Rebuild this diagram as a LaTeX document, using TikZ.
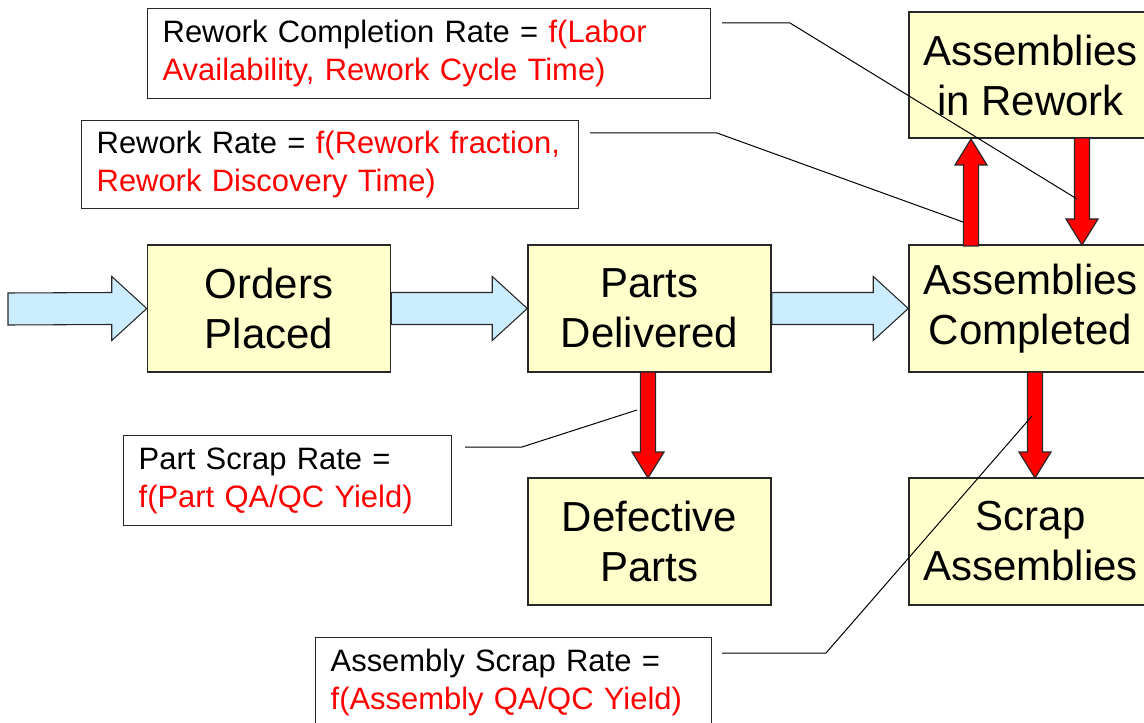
\documentclass[tikz,border=0pt]{standalone}
\usepackage{fontspec}
\setmainfont{Liberation Sans}
\usetikzlibrary{calc}
\def\pxu{0.75pt}
\definecolor{stockfill}{RGB}{255,255,204}
\definecolor{flowfill}{RGB}{204,236,255}
\definecolor{edge}{RGB}{40,40,40}
\definecolor{fred}{RGB}{255,0,0}
\tikzset{
  stock/.style={draw=edge, line width=1.1pt, fill=stockfill, minimum width=243*\pxu, minimum height=127*\pxu,
    align=center, inner sep=0pt, font=\fontsize{31.5}{37.5}\selectfont},
  lblbox/.style={draw=edge, line width=1pt, fill=white, anchor=north west, inner xsep=15*\pxu, inner ysep=0pt,
    align=left, font={\fontsize{23.2}{28.5}\selectfont\hyphenpenalty=10000\exhyphenpenalty=10000}},
  blueflow/.style={draw=edge, line width=0.8pt, fill=flowfill, line join=miter},
  redflow/.style={draw=edge, line width=0.9pt, fill=fred, line join=miter},
  leader/.style={draw=black, line width=0.75pt}
}
\newcommand\hflow[2]{%
  \path[blueflow] ($(#1)+(0,-16)$) -- ($(#2)+(-35,-16)$) -- ($(#2)+(-35,-32)$) -- (#2)
    -- ($(#2)+(-35,32)$) -- ($(#2)+(-35,16)$) -- ($(#1)+(0,16)$) -- cycle;}
\newcommand\vflow[3]{%
  \path[redflow] ($(#1)+(-7.5,0)$) -- ($(#2)+(-7.5,#3)$) -- ($(#2)+(-16,#3)$) -- (#2)
    -- ($(#2)+(16,#3)$) -- ($(#2)+(7.5,#3)$) -- ($(#1)+(7.5,0)$) -- cycle;}
\begin{document}
\begin{tikzpicture}[x=0.75pt, y=-0.75pt]
\useasboundingbox (0,0) rectangle (1144,723);

% stocks
\node[stock] (orders) at (269,308.5) {Orders\\Placed};
\node[stock] (parts) at (649.5,308.5) {Parts\\Delivered};
\node[stock] (compl) at (1030.5,308.5) {Assemblies\\Completed};
\node[stock, minimum height=126*\pxu] (rework) at (1030.5,75) {Assemblies\\in Rework};
\node[stock] (defect) at (649.5,541.5) {Defective\\Parts};
\node[stock] (scrap) at (1030.5,541.5) {Scrap\\Assemblies};

% blue flows
\coordinate (src) at (8,309);
\hflow{src}{orders.west}
\hflow{orders.east}{parts.west}
\hflow{parts.east}{compl.west}

% red flows
\coordinate (a1s) at (648,372);  \coordinate (a1t) at (648,478);
\coordinate (a2s) at (1035,372); \coordinate (a2t) at (1035,478);
\coordinate (a3s) at (971,246);  \coordinate (a3t) at (971,139);
\coordinate (a4s) at (1082,138); \coordinate (a4t) at (1082,245);
\vflow{a1s}{a1t}{-26}
\vflow{a2s}{a2t}{-26}
\vflow{a3s}{a3t}{26}
\vflow{a4s}{a4t}{-26}

% labels
\node[lblbox, minimum width=563*\pxu, minimum height=90*\pxu, text width=533*\pxu] (l1) at (147,8)
  {Rework Completion Rate = \color{fred}f(Labor\\Availability, Rework Cycle Time)};
\node[lblbox, minimum width=497*\pxu, minimum height=88*\pxu, text width=467*\pxu] (l2) at (81,120)
  {Rework Rate = \color{fred}f(Rework fraction,\\Rework Discovery Time)};
\node[lblbox, minimum width=328*\pxu, minimum height=90*\pxu, text width=298*\pxu] (l3) at (123,435)
  {Part Scrap Rate =\\\color{fred}f(Part QA/QC Yield)};
\node[lblbox, minimum width=396*\pxu, minimum height=90*\pxu, text width=366*\pxu] (l4) at (315,637)
  {Assembly Scrap Rate =\\\color{fred}f(Assembly QA/QC Yield)};

% leaders
\coordinate (p1a) at (722,23);  \coordinate (p1b) at (790,23);  \coordinate (p1c) at (1077,199);
\coordinate (p2a) at (590,133); \coordinate (p2b) at (717,133); \coordinate (p2c) at (963,222);
\coordinate (p3a) at (465,447); \coordinate (p3b) at (522,447); \coordinate (p3c) at (637,410);
\coordinate (p4a) at (722,653); \coordinate (p4b) at (826,653); \coordinate (p4c) at (1032,416);
\draw[leader] (p1a) -- (p1b) -- (p1c);
\draw[leader] (p2a) -- (p2b) -- (p2c);
\draw[leader] (p3a) -- (p3b) -- (p3c);
\draw[leader] (p4a) -- (p4b) -- (p4c);
\end{tikzpicture}
\end{document}
